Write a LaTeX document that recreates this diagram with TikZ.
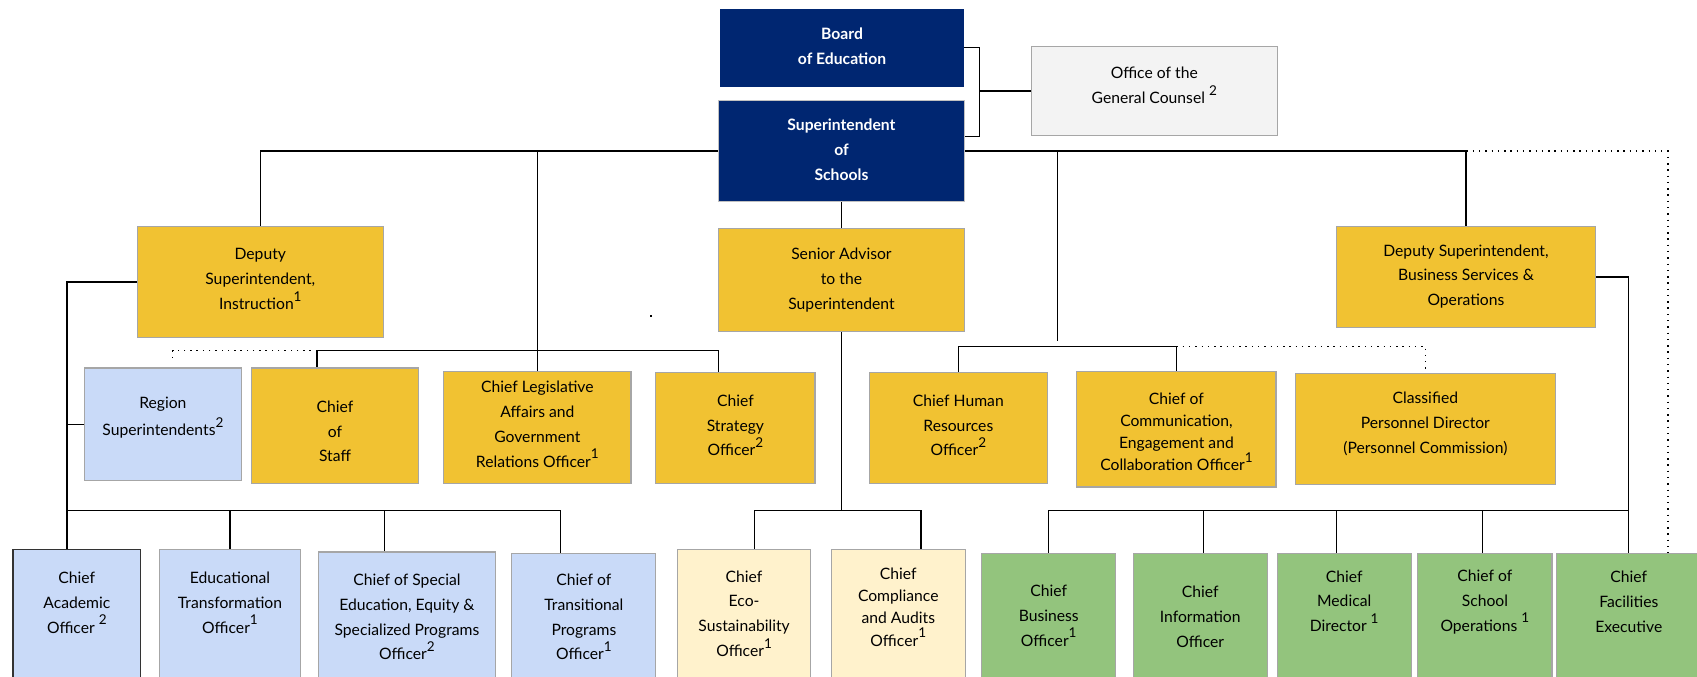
\documentclass[tikz,border=0pt]{standalone}
\usepackage{fontspec}
\setmainfont{Lato}
\usetikzlibrary{backgrounds}
\definecolor{navy}{HTML}{002671}
\definecolor{ylw}{HTML}{F1C232}
\definecolor{lblue}{HTML}{C9DAF8}
\definecolor{cream}{HTML}{FFF2CC}
\definecolor{lgreen}{HTML}{93C47D}
\definecolor{lgray}{HTML}{F3F3F3}
\definecolor{bord}{HTML}{A6A6A6}
\newcommand\sx[1]{\raisebox{0.55em}{\fontsize{12.5}{12.5}\selectfont #1}}
\newcommand\bx[9]{%
  \node[#6, minimum width={(#4-#2)*1pt}, minimum height={(#5-#3)*1pt}] (#1) at ({(#2+#4)/2},{(#3+#5)/2}) {};
  \node[txt,#8] (#1-t) at ({(#2+#4)/2},#7) {#9};}
\tikzset{
  box/.style={draw=bord, line width=1pt, inner sep=0, outer sep=0, rectangle},
  yb/.style={box, fill=ylw},
  bb/.style={box, fill=lblue},
  cb/.style={box, fill=cream},
  gb/.style={box, fill=lgreen},
  nb/.style={fill=navy, inner sep=0, outer sep=0, rectangle},
  txt/.style={align=center, inner sep=0, font=\fontsize{14.5}{23}\selectfont},
  wt/.style={text=white, font=\bfseries\fontsize{14.5}{23}\selectfont},
  tight/.style={font=\fontsize{14.5}{20.5}\selectfont},
  conn/.style={line width=1.2pt, black},
  dotl/.style={line width=1.3pt, dash pattern=on 1.3pt off 4.5pt}
}
\begin{document}
\begin{tikzpicture}[x=1pt,y=-1pt]
\useasboundingbox (0,0) rectangle (1568,625);
% top
\bx{board}{665}{8}{891}{80}{nb}{42.5}{wt}{Board\\of Education}
\bx{super}{664}{93}{891}{186}{nb,draw=bord!70,line width=1pt}{138.5}{wt}{Superintendent\\of\\Schools}
\bx{gc}{953}{43}{1180}{125}{box,fill=lgray}{79}{}{Office of the\\General Counsel \sx{2}}
% row 2
\bx{depI}{127}{209}{354}{312}{yb}{258}{}{Deputy\\Superintendent,\\Instruction\sx{1}}
\bx{senior}{664}{211}{891}{306}{yb}{259}{}{Senior Advisor\\to the\\Superintendent}
\bx{depB}{1235}{209}{1474}{303}{yb}{255.5}{}{Deputy Superintendent,\\Business Services \&\\Operations}
% row 3
\bx{region}{78}{340}{223}{444}{bb}{386}{font=\fontsize{14.5}{25}\selectfont}{Region\\Superintendents\sx{2}}
\bx{staff}{232}{340}{387}{447}{yb}{398.5}{}{Chief\\of\\Staff}
\bx{legis}{410}{343}{583}{447}{yb}{392}{}{Chief Legislative\\Affairs and\\Government\\Relations Officer\sx{1}}
\bx{strat}{606}{344}{753}{447}{yb}{393}{}{Chief\\Strategy\\Officer\sx{2}}
\bx{hr}{803}{344}{968}{447}{yb}{393}{}{Chief Human\\Resources\\Officer\sx{2}}
\bx{comm}{995}{343}{1179}{450}{yb}{399}{tight}{Chief of\\Communication,\\Engagement and\\Collaboration Officer\sx{1}}
\bx{class}{1197}{345}{1437}{448}{yb}{391.5}{}{Classified\\Personnel Director\\(Personnel Commission)}
% row 4
\bx{acad}{12}{508}{130}{632}{bb,draw=black!80}{557}{}{Chief\\Academic\\Officer \sx{2}}
\bx{edu}{147}{508}{278}{632}{bb}{557}{}{Educational\\Transformation\\Officer\sx{1}}
\bx{sped}{294}{510}{458}{632}{bb}{570}{}{Chief of Special\\Education, Equity \&\\Specialized Programs\\Officer\sx{2}}
\bx{trans}{473}{511}{606}{632}{bb}{570}{}{Chief of\\Transitional\\Programs\\Officer\sx{1}}
\bx{eco}{626}{508}{749}{632}{cb}{567}{}{Chief\\Eco-\\Sustainability\\Officer\sx{1}}
\bx{comp}{768}{508}{892}{632}{cb}{561}{tight}{Chief\\Compliance\\and Audits\\Officer\sx{1}}
\bx{bus}{907}{511}{1031}{632}{gb}{569}{}{Chief\\Business\\Officer\sx{1}}
\bx{info}{1047}{511}{1171}{632}{gb}{570}{}{Chief\\Information\\Officer}
\bx{med}{1180}{511}{1304}{632}{gb}{555.5}{}{Chief\\Medical\\Director \sx{1}}
\bx{sops}{1310}{511}{1434}{632}{gb}{556}{}{Chief of\\School\\Operations \sx{1}}
\bx{fac}{1438}{511}{1572}{632}{gb}{556}{}{Chief\\Facilities\\Executive}
% stray dot
\fill (600.5,291) rectangle (602.5,293);
\begin{scope}[on background layer]
\fill[white] (0,0) rectangle (1568,625);
\coordinate (lb) at (0,324);
\coordinate (rb) at (0,320);
\coordinate (sb) at (0,472);
\coordinate (bk) at (905,84);
\coordinate (hrc) at (977,315);
\coordinate (lx) at ([xshift=-9pt]acad.north);
\coordinate (sxx) at ([xshift=-16.5pt]staff.north);
\coordinate (txx) at ([xshift=-15.5pt]strat.north);
% dotted lines
\draw[dotl] (super.east) -| ([xshift=36pt]fac.north);
\draw[dotl] (comm.north |- rb) -| (class.north);
\draw[dotl, shorten >=5pt] (sxx |- lb) -| ([xshift=9pt]region.north);
% main bus
\draw[conn] (depI.north) |- (depB.north |- super.west) -- (depB.north);
\draw[conn] (legis.north |- super.west) -- (legis.north);
\draw[conn] (hrc |- super.west) -- (hrc);
\draw[conn] (hr.north) |- (comm.north |- rb) -- (comm.north);
\draw[conn] (super.south) -- (senior.north);
% senior advisor
\draw[conn] (senior.south) -- (senior.south |- sb);
\draw[conn] ([xshift=9.5pt]eco.north) |- ([xshift=21pt]comp.north |- sb) -- ([xshift=21pt]comp.north);
% deputy business
\draw[conn] (depB.east) -| (fac.north);
\draw[conn] (bus.north) |- (fac.north |- sb);
\draw[conn] ([xshift=3pt]info.north |- sb) -- ([xshift=3pt]info.north);
\draw[conn] ([xshift=-7pt]med.north |- sb) -- ([xshift=-7pt]med.north);
\draw[conn] ([xshift=-2pt]sops.north |- sb) -- ([xshift=-2pt]sops.north);
% deputy instruction
\draw[conn] (depI.west) -| (lx);
\draw[conn] (region.west) -- (region.west -| lx);
\draw[conn] (lx |- sb) -| ([xshift=-21.5pt]trans.north);
\draw[conn] (edu.north |- sb) -- (edu.north);
\draw[conn] ([xshift=-21pt]sped.north |- sb) -- ([xshift=-21pt]sped.north);
% row 3 left bus
\draw[conn] (sxx) |- (txx |- lb) -- (txx);
% board bracket
\draw[conn] (board.east) -| (bk) |- ([yshift=13.5pt]super.east);
\draw[conn] (bk) -- (gc.west);
\end{scope}
\end{tikzpicture}
\end{document}
